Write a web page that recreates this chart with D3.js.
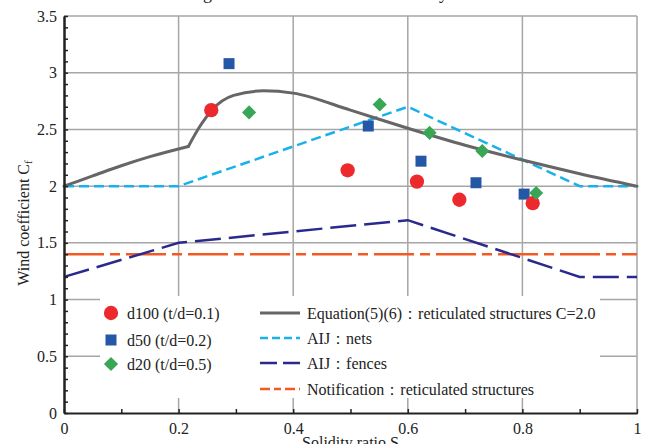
<!DOCTYPE html>
<html>
<head>
<meta charset="utf-8">
<script src="https://cdn.jsdelivr.net/npm/d3@7"></script>
<style>
  html, body { margin: 0; padding: 0; background: #fff; }
  svg { display: block; }
  svg text { font-family: "Liberation Serif", "Times New Roman", Tinos, "DejaVu Serif", serif; fill: #222; }
</style>
</head>
<body>
<svg id="chart" width="651" height="444"></svg>
<script>
// ---------- data ----------
const titleText = "Drag coefficient in relation to solidity";
const xTickValues = [0, 0.2, 0.4, 0.6, 0.8, 1];
const xTickLabels = ["0", "0.2", "0.4", "0.6", "0.8", "1"];
const yTickValues = [0, 0.5, 1, 1.5, 2, 2.5, 3, 3.5];
const yTickLabels = ["0", "0.5", "1", "1.5", "2", "2.5", "3", "3.5"];

const d100S  = [0.257, 0.495, 0.616, 0.690, 0.818];
const d100Cf = [2.67, 2.14, 2.04, 1.88, 1.85];
const d50S   = [0.288, 0.531, 0.623, 0.719, 0.803];
const d50Cf  = [3.08, 2.53, 2.22, 2.03, 1.93];
const d20S   = [0.323, 0.551, 0.638, 0.730, 0.824];
const d20Cf  = [2.65, 2.72, 2.47, 2.31, 1.94];

// Equation(5)(6): two smooth branches meeting at a kink (S = 0.217)
const eqLowS  = [0, 0.05, 0.1, 0.15, 0.217];
const eqLowCf = [2.0, 2.09, 2.18, 2.26, 2.35];
const eqHighS  = [0.217, 0.2375, 0.258, 0.296, 0.348, 0.40, 0.5, 0.6, 0.7, 0.8, 0.9, 1.0];
const eqHighCf = [2.35, 2.53, 2.67, 2.80, 2.84, 2.82, 2.67, 2.51, 2.36, 2.23, 2.11, 2.0];
const netsS  = [0, 0.2, 0.6, 0.9, 1.0];
const netsCf = [2.0, 2.0, 2.7, 2.0, 2.0];
const fencesS  = [0, 0.2, 0.6, 0.9, 1.0];
const fencesCf = [1.2, 1.5, 1.7, 1.2, 1.2];
const notifS  = [0, 1];
const notifCf = [1.4, 1.4];

const pointLegend = ["d100 (t/d=0.1)", "d50 (t/d=0.2)", "d20 (t/d=0.5)"];
const lineLegend = ["Equation(5)(6)：reticulated structures C=2.0", "AIJ：nets", "AIJ：fences", "Notification：reticulated structures"];

// ---------- layout ----------
const FONT = '"Liberation Serif", "Times New Roman", Tinos, "DejaVu Serif", serif';
const svg = d3.select("#chart");
const L = 64, R = 637, T = 16, B = 413;
const x = d3.scaleLinear().domain([0, 1]).range([L, R]);
const y = d3.scaleLinear().domain([0, 3.5]).range([B, T]);

const C = {
  red: "#ec2a2d", blue: "#2457a6", green: "#37a655",
  gray: "#666666", sky: "#19b1ec", navy: "#2a2a8e", orange: "#f15a24", grid: "#a6a6a6"
};

// title (mostly above viewport)
svg.append("text").attr("x", 176).attr("y", -1).attr("font-size", 18).attr("font-family", FONT).text(titleText);

// grid
const g = svg.append("g");
g.selectAll(".vg").data(xTickValues.filter(v => v > 0)).join("line")
  .attr("x1", d => x(d)).attr("x2", d => x(d)).attr("y1", y(0)).attr("y2", y(3.5))
  .attr("stroke", C.grid).attr("stroke-width", 1.5);
g.selectAll(".hg").data(yTickValues.filter(v => v > 0)).join("line")
  .attr("x1", x(0)).attr("x2", x(1)).attr("y1", d => y(d)).attr("y2", d => y(d))
  .attr("stroke", C.grid).attr("stroke-width", 1.5);

// legend background (covers grid)
svg.append("rect").attr("x", 100).attr("y", 296).attr("width", 500).attr("height", 102).attr("fill", "#fff");

// lines
const mk = (sx, sy) => sx.map((s, i) => [s, sy[i]]);
const line = d3.line().x(d => x(d[0])).y(d => y(d[1]));
const smooth = d3.line().x(d => x(d[0])).y(d => y(d[1])).curve(d3.curveMonotoneX);

const styles = [
  { data: [mk(notifS, notifCf)], color: C.orange, dash: "40,6,10,6", w: 2.5, gen: line },
  { data: [mk(fencesS, fencesCf)], color: C.navy, dash: "26,8", w: 2.5, gen: line },
  { data: [mk(netsS, netsCf)], color: C.sky, dash: "10,5", w: 2.5, gen: line },
  { data: [mk(eqLowS, eqLowCf), mk(eqHighS, eqHighCf)], color: C.gray, dash: null, w: 3, gen: smooth }
];
styles.forEach(s => {
  s.data.forEach(dd => {
    svg.append("path").attr("d", s.gen(dd)).attr("fill", "none")
      .attr("stroke", s.color).attr("stroke-width", s.w)
      .attr("stroke-linecap", s.dash ? "butt" : "round")
      .attr("stroke-dasharray", s.dash);
  });
});

// markers
const sym = {
  circle: d3.symbol().type(d3.symbolCircle).size(160),
  square: d3.symbol().type(d3.symbolSquare).size(121),
  diamond: d3.symbol().type(d3.symbolSquare).size(100)
};
function drawPts(sx, sy, kind, color) {
  svg.append("g").selectAll("path").data(mk(sx, sy)).join("path")
    .attr("d", sym[kind]())
    .attr("transform", d => `translate(${x(d[0])},${y(d[1])})` + (kind === "diamond" ? " rotate(45)" : ""))
    .attr("fill", color);
}
drawPts(d50S, d50Cf, "square", C.blue);
drawPts(d100S, d100Cf, "circle", C.red);
drawPts(d20S, d20Cf, "diamond", C.green);

// axes
const minorX = d3.range(0, 1.0001, 0.1);
const minorY = d3.range(0, 3.5001, 0.1);
svg.append("g").attr("transform", `translate(0,${B})`)
  .call(d3.axisBottom(x).tickValues(minorX).tickSize(-4).tickFormat(""))
  .call(a => a.selectAll("line").attr("stroke", "#222").attr("stroke-width", 1.5));
const xa = svg.append("g").attr("transform", `translate(0,${B})`)
  .call(d3.axisBottom(x).tickValues(xTickValues).tickSize(0).tickPadding(10)
    .tickFormat((d, i) => xTickLabels[i]));
xa.attr("font-family", FONT);
xa.select(".domain").attr("stroke", "#222").attr("stroke-width", 2);
xa.selectAll("text").attr("font-size", 16).attr("font-family", FONT).attr("fill", "#222");

svg.append("g").attr("transform", `translate(${L},0)`)
  .call(d3.axisLeft(y).tickValues(minorY).tickSize(-4).tickFormat(""))
  .call(a => { a.selectAll("line").attr("stroke", "#222").attr("stroke-width", 1.5); a.select(".domain").remove(); });
const ya = svg.append("g").attr("transform", `translate(${L},0)`)
  .call(d3.axisLeft(y).tickValues(yTickValues).tickSize(0).tickPadding(7)
    .tickFormat((d, i) => yTickLabels[i]));
ya.attr("font-family", FONT);
ya.select(".domain").attr("stroke", "#222").attr("stroke-width", 2.5);
ya.selectAll("text").attr("font-size", 16).attr("font-family", FONT).attr("fill", "#222");

// axis titles
svg.append("text").attr("x", (L + R) / 2).attr("y", 448).attr("text-anchor", "middle")
  .attr("font-size", 16).attr("font-family", FONT).text("Solidity ratio S");
const yt = svg.append("text").attr("transform", "translate(29,223) rotate(-90)")
  .attr("text-anchor", "middle").attr("font-size", 16).attr("font-family", FONT);
yt.append("tspan").text("Wind coefficient C");
yt.append("tspan").attr("font-size", 11).attr("dy", 3).text("f");

// legend: points
const pKinds = [["circle", C.red], ["square", C.blue], ["diamond", C.green]];
const pY = [313, 340, 364];
pointLegend.forEach((t, i) => {
  svg.append("path").attr("d", sym[pKinds[i][0]]())
    .attr("transform", `translate(111,${pY[i]})` + (pKinds[i][0] === "diamond" ? " rotate(45)" : ""))
    .attr("fill", pKinds[i][1]);
  svg.append("text").attr("x", 127).attr("y", pY[i]).attr("dy", "0.35em").attr("font-size", 16)
    .attr("font-family", FONT).text(t);
});

// legend: lines
const lColors = [C.gray, C.sky, C.navy, C.orange];
const lWidths = [3, 2.5, 2.5, 2.5];
const lY = [313, 338, 363, 389];
const lDash = [null, "8,4", "17,6", "10,4,7,4"];
lineLegend.forEach((t, i) => {
  svg.append("line").attr("x1", 260).attr("x2", 300).attr("y1", lY[i]).attr("y2", lY[i])
    .attr("stroke", lColors[i]).attr("stroke-width", lWidths[i])
    .attr("stroke-dasharray", lDash[i]);
  svg.append("text").attr("x", 307).attr("y", lY[i]).attr("dy", "0.35em").attr("font-size", 16)
    .attr("font-family", FONT).text(t);
});
</script>
</body>
</html>
